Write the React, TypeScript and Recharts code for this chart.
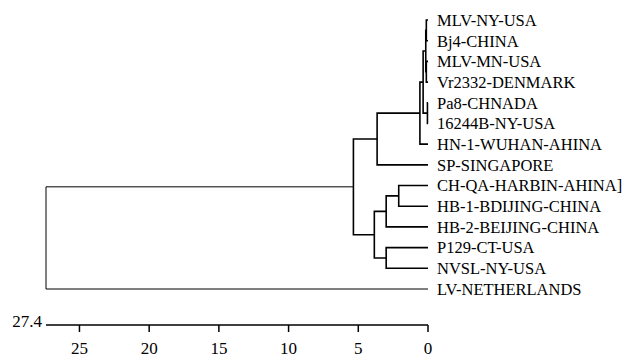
import React from "react"
import { ComposedChart, Line, XAxis, YAxis } from "recharts"

// leaf labels, top to bottom
const leaves = [
  "MLV-NY-USA",
  "Bj4-CHINA",
  "MLV-MN-USA",
  "Vr2332-DENMARK",
  "Pa8-CHNADA",
  "16244B-NY-USA",
  "HN-1-WUHAN-AHINA",
  "SP-SINGAPORE",
  "CH-QA-HARBIN-AHINA]",
  "HB-1-BDIJING-CHINA",
  "HB-2-BEIJING-CHINA",
  "P129-CT-USA",
  "NVSL-NY-USA",
  "LV-NETHERLANDS",
]

// merges: ids < 14 are leaves, id 14 + k is the k-th merge
const mergeLeft = [0, 2, 14, 4, 16, 18, 19, 8, 21, 11, 22, 20, 25]
const mergeRight = [1, 3, 15, 5, 17, 6, 7, 9, 10, 12, 23, 24, 13]
const mergeHeight = [0.12, 0.12, 0.16, 0.04, 0.35, 0.58, 3.65, 2.1, 3.0, 3.0, 3.85, 5.35, 27.4]

const xTicks = [27.4, 25, 20, 15, 10, 5, 0]
const leafTicks = leaves.map((_, i) => i)

const FONT = "Liberation Serif, Times New Roman, serif"

// positions of every node (leaf or merge)
const nodeY: number[] = leaves.map((_, i) => i)
const nodeH: number[] = leaves.map(() => 0)
mergeLeft.forEach((l, k) => {
  nodeY.push((nodeY[l] + nodeY[mergeRight[k]]) / 2)
  nodeH.push(mergeHeight[k])
})

const segments = mergeLeft.map((l, k) => {
  const r = mergeRight[k]
  const h = mergeHeight[k]
  return [
    { x: nodeH[l], y: nodeY[l] },
    { x: h, y: nodeY[l] },
    { x: h, y: nodeY[r] },
    { x: nodeH[r], y: nodeY[r] },
  ]
})

const XTick = (props: any) => {
  const { x, y, payload } = props
  if (payload.value === 27.4) {
    return (
      <text x={x - 4} y={y + 2} textAnchor="end" fontSize={17} fontFamily={FONT} fill="#000">
        27.4
      </text>
    )
  }
  return (
    <g>
      <line x1={x} y1={y} x2={x} y2={y + 7} stroke="#000" strokeWidth={1.5} />
      <text x={x} y={y + 29} textAnchor="middle" fontSize={17} fontFamily={FONT} fill="#000">
        {payload.value}
      </text>
    </g>
  )
}

export default function App() {
  return (
    <ComposedChart
      width={623}
      height={350}
      margin={{ top: 12, right: 0, left: 38, bottom: 0 }}
      style={{ fontFamily: FONT }}
    >
      <XAxis
        type="number"
        dataKey="x"
        domain={[0, 27.4]}
        reversed
        ticks={xTicks}
        interval={0}
        height={33}
        tickSize={0}
        tickMargin={0}
        tickLine={false}
        axisLine={{ stroke: "#000", strokeWidth: 1.5 }}
        tick={<XTick />}
      />
      <YAxis
        type="number"
        orientation="right"
        domain={[0, 13]}
        reversed
        ticks={leafTicks}
        interval={0}
        padding={{ top: 0, bottom: 36 }}
        width={203}
        axisLine={false}
        tickLine={false}
        tickMargin={3}
        tickFormatter={(v: number) => leaves[v]}
        tick={{ fill: "#000", fontSize: 16.5, fontFamily: FONT, textAnchor: "start" }}
      />
      {segments.map((seg, i) => (
        <Line
          key={i}
          data={seg}
          dataKey="y"
          type="linear"
          stroke="#000"
          strokeWidth={i === segments.length - 1 ? 1 : 1.6}
          dot={false}
          activeDot={false}
          isAnimationActive={false}
        />
      ))}
    </ComposedChart>
  )
}
